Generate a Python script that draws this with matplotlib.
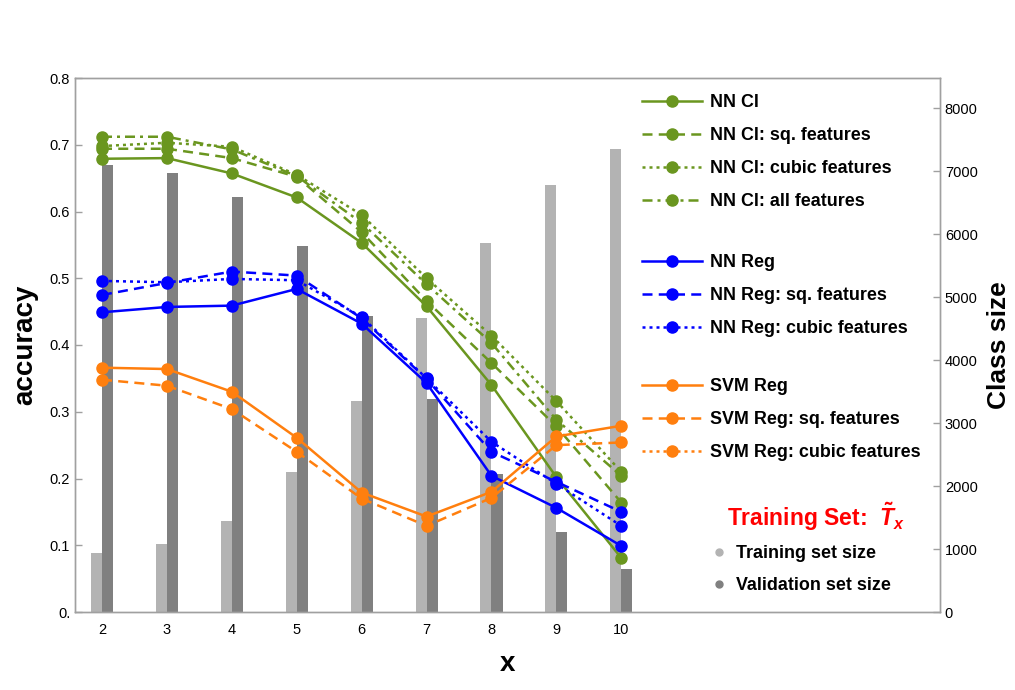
import matplotlib
matplotlib.use("Agg")
from matplotlib import pyplot as plt
from matplotlib.lines import Line2D

plt.rcParams['font.family'] = ['Liberation Sans', 'DejaVu Sans']
plt.rcParams['mathtext.fontset'] = 'custom'
plt.rcParams['mathtext.it'] = 'Liberation Sans:bold:italic'
plt.rcParams['mathtext.rm'] = 'Liberation Sans:bold'

# data
xs = [2, 3, 4, 5, 6, 7, 8, 9, 10]

nn_cl = [0.679, 0.680, 0.657, 0.621, 0.553, 0.458, 0.340, 0.202, 0.081]
nn_cl_sq = [0.694, 0.694, 0.680, 0.652, 0.569, 0.466, 0.373, 0.278, 0.164]
nn_cl_cubic = [0.698, 0.703, 0.697, 0.655, 0.595, 0.500, 0.414, 0.316, 0.210]
nn_cl_all = [0.712, 0.712, 0.693, 0.653, 0.583, 0.491, 0.403, 0.288, 0.204]

nn_reg = [0.449, 0.457, 0.459, 0.484, 0.432, 0.343, 0.204, 0.156, 0.099]
nn_reg_sq = [0.475, 0.493, 0.510, 0.504, 0.440, 0.349, 0.240, 0.195, 0.150]
nn_reg_cubic = [0.496, 0.494, 0.499, 0.497, 0.442, 0.350, 0.255, 0.192, 0.129]

svm_reg = [0.366, 0.364, 0.330, 0.261, 0.179, 0.143, 0.180, 0.263, 0.279]
svm_reg_sq = [0.348, 0.339, 0.304, 0.240, 0.170, 0.129, 0.171, 0.250, 0.254]
svm_reg_cubic = []  # in the legend only, no visible points

train_size = [937, 1075, 1450, 2217, 3344, 4667, 5852, 6778, 7356]
valid_size = [7106, 6968, 6594, 5820, 4694, 3376, 2186, 1265, 683]

acc_ticks = [0, 0.1, 0.2, 0.3, 0.4, 0.5, 0.6, 0.7, 0.8]
acc_tick_labels = ["0.", "0.1", "0.2", "0.3", "0.4", "0.5", "0.6", "0.7", "0.8"]
size_ticks = [0, 1000, 2000, 3000, 4000, 5000, 6000, 7000, 8000]

green = "#6a961f"
blue = "#0000ff"
orange = "#ff7f0e"
light_gray = "#b3b3b3"
dark_gray = "#808080"
spine_gray = "#a0a0a0"

fig = plt.figure(figsize=(10.15, 6.90), dpi=100)
ax = fig.add_axes([75 / 1015, 78 / 690, 865 / 1015, 534 / 690])
ax2 = ax.twinx()

# bars on the right axis, behind the lines
bw = 0.17
ax2.bar([x - bw / 2 for x in xs], train_size, width=bw, color=light_gray, zorder=1)
ax2.bar([x + bw / 2 for x in xs], valid_size, width=bw, color=dark_gray, zorder=1)
ax2.set_ylim(0, 8480)
ax2.set_yticks(size_ticks)
ax2.set_yticklabels([str(v) for v in size_ticks])
ax2.set_ylabel("Class size", fontsize=19, fontweight="bold", labelpad=7)

ax.set_zorder(ax2.get_zorder() + 1)
ax.patch.set_visible(False)

lw = 1.8
ms = 8
dash = (0, (4, 2.5))
dot = (0, (1.2, 1.6))
dashdot = (0, (4, 2, 1.2, 2))

h = []
h += ax.plot(xs, nn_cl, color=green, lw=lw, marker="o", ms=ms, label="NN Cl")
h += ax.plot(xs, nn_cl_sq, color=green, lw=lw, ls=dash, marker="o", ms=ms, label="NN Cl: sq. features")
h += ax.plot(xs, nn_cl_cubic, color=green, lw=lw, ls=dot, marker="o", ms=ms, label="NN Cl: cubic features")
h += ax.plot(xs, nn_cl_all, color=green, lw=lw, ls=dashdot, marker="o", ms=ms, label="NN Cl: all features")
h += ax.plot(xs, nn_reg, color=blue, lw=lw, marker="o", ms=ms, label="NN Reg")
h += ax.plot(xs, nn_reg_sq, color=blue, lw=lw, ls=dash, marker="o", ms=ms, label="NN Reg: sq. features")
h += ax.plot(xs, nn_reg_cubic, color=blue, lw=lw, ls=dot, marker="o", ms=ms, label="NN Reg: cubic features")
h += ax.plot(xs, svm_reg, color=orange, lw=lw, marker="o", ms=ms, label="SVM Reg")
h += ax.plot(xs, svm_reg_sq, color=orange, lw=lw, ls=dash, marker="o", ms=ms, label="SVM Reg: sq. features")
h += ax.plot(svm_reg_cubic, svm_reg_cubic, color=orange, lw=lw, ls=dot, marker="o", ms=ms,
             label="SVM Reg: cubic features")

ax.set_xlim(1.584, 14.91)
ax.set_ylim(0, 0.8)
ax.set_xticks(xs)
ax.set_xticklabels([str(x) for x in xs])
ax.set_yticks(acc_ticks)
ax.set_yticklabels(acc_tick_labels)
ax.set_xlabel("x", fontsize=20, fontweight="bold", labelpad=10)
ax.set_ylabel("accuracy", fontsize=20, fontweight="bold", labelpad=8)

for a in (ax, ax2):
    for s in a.spines.values():
        s.set_color(spine_gray)
        s.set_linewidth(1.0)
    a.tick_params(direction="in", length=5, width=1, color=spine_gray, labelsize=10.5)
ax.tick_params(axis="x", length=0, pad=8)

# legends, three groups
leg_kw = dict(frameon=False, handlelength=3.35, handletextpad=0.45,
              labelspacing=0.9, borderpad=0, borderaxespad=0, loc="upper left",
              prop={"weight": "bold", "size": 12.9})
groups = [(h[0:4], 94), (h[4:7], 254), (h[7:10], 378)]
for hs, ytop in groups:
    fig.legend(handles=hs, bbox_to_anchor=(642 / 1015, 1 - ytop / 690), **leg_kw)

fig.text(727 / 1015, 1 - 517 / 690, r"Training Set:  $\tilde{T}_x$", color="red",
         fontsize=16.5, fontweight="bold", va="center")

bar_handles = [
    Line2D([], [], ls="none", marker="o", ms=5, color=light_gray, label="Training set size"),
    Line2D([], [], ls="none", marker="o", ms=5, color=dark_gray, label="Validation set size"),
]
fig.legend(handles=bar_handles, bbox_to_anchor=(710 / 1015, 1 - 545 / 690), frameon=False,
           handlelength=1.0, handletextpad=0.45, labelspacing=0.84, borderpad=0, borderaxespad=0,
           loc="upper left", prop={"weight": "bold", "size": 12.9})

fig.savefig("out.png", dpi=100)
